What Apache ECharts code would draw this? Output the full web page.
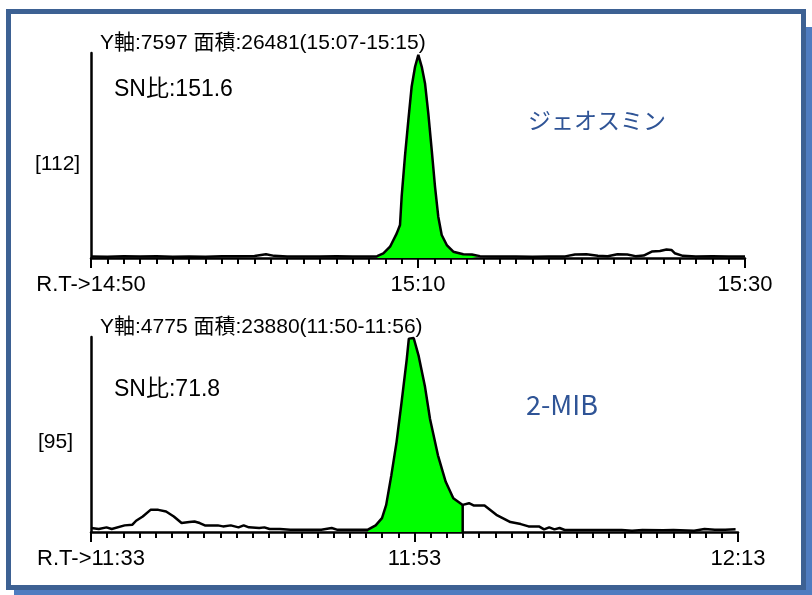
<!DOCTYPE html>
<html>
<head>
<meta charset="utf-8">
<title>ジェオスミン / 2-MIB</title>
<script src="https://cdn.jsdelivr.net/npm/echarts@6/dist/echarts.min.js"></script>
<style>
  html, body { margin: 0; padding: 0; background: #fff; }
  #main { width: 812px; height: 595px; }
</style>
</head>
<body>
<div id="main"></div>
<script>
// 上段：ジェオスミン [112]  横軸は 14:50 からの秒数
var geoTime = [0, 1, 2, 3, 4, 5, 6, 7, 8, 9, 10, 10.7, 11.2, 12, 13, 14, 15, 16, 17, 17.5,
  17.88, 18.29, 18.7, 18.9, 19.0, 19.2, 19.41, 19.61, 19.82, 20.02, 20.23, 20.43, 20.63, 20.84,
  21.04, 21.24, 21.45, 21.76, 22.16, 22.77, 23.3, 23.79, 24.5, 25, 26, 27, 28, 29, 29.6, 30.3,
  31.0, 31.6, 32.2, 32.8, 33.3, 33.8, 34.3, 34.8, 35.2, 35.5, 35.7, 36.2, 37, 38, 39, 40];
var geoValue = [60, 50, 70, 55, 70, 50, 60, 50, 65, 70, 75, 140, 80, 60, 55, 60, 70, 60, 55, 70,
  175, 423, 922, 1234, 2293, 3789, 5161, 6407, 7154, 7597, 7154, 6532, 5410, 4039,
  2667, 1545, 860, 486, 236, 140, 130, 70, 60, 55, 60, 50, 55, 60, 130, 140,
  80, 65, 140, 130, 70, 90, 240, 260, 320, 300, 180, 80, 60, 65, 55, 60];
var geoTicks = ['R.T->14:50', '15:10', '15:30'];
var geoArea = [17.5, 23.79];  // 緑で塗る範囲

// 下段：2-MIB [95]  横軸は 11:33 からの秒数
var mibTime = [0, 0.48, 0.96, 1.28, 2.08, 2.56, 2.79, 3.2, 3.68, 4.16, 4.64, 5.12, 5.6, 6.08,
  6.4, 6.72, 7.04, 7.84, 8.16, 8.64, 9.12, 9.44, 9.76, 10.4, 10.72, 11.04, 11.68, 12.32, 14.24,
  14.88, 15.2, 16.17, 16.8, 17.12, 17.6, 17.99, 18.25, 18.57, 18.89, 19.2, 19.52, 19.65, 19.95,
  20.26, 20.64, 20.96, 21.45, 21.93, 22.4, 22.98, 23.37, 23.68, 24.33, 25.06, 25.93, 26.57,
  27.05, 27.69, 28.01, 28.33, 28.65, 28.97, 29.29, 30.25, 32.81, 33.45, 34.09, 35.37, 36.01,
  37.29, 37.93, 38.57, 39.21, 39.85];
var mibValue = [100, 73, 114, 73, 163, 179, 277, 382, 545, 545, 504, 382, 220, 244,
  260, 220, 163, 163, 138, 163, 114, 163, 114, 98, 114, 73, 73, 57, 57,
  98, 57, 57, 57, 57, 163, 342, 667, 1400, 2213, 3189, 4247, 4760, 4775,
  4329, 3596, 2783, 1888, 1236, 830, 667, 708, 650, 650, 423, 244, 195,
  138, 138, 65, 114, 65, 98, 49, 49, 49, 32, 49, 41, 49,
  32, 73, 57, 57, 65];
var mibTicks = ['R.T->11:33', '11:53', '12:13'];
var mibArea = [17.12, 22.98];

var FONT = '"Liberation Sans", Arial, "Noto Sans CJK JP", sans-serif';

// 時間と強度を [x, y] の組にする
function pairs(t, v) {
  return t.map(function(x, i) { return [x, v[i]]; });
}
// 塗りつぶし範囲だけ取り出す
function areaPart(t, v, range) {
  return pairs(t, v).filter(function(p) { return p[0] >= range[0] && p[0] <= range[1]; });
}

function makeX(idx, ticks) {
  return {
    type: 'value', gridIndex: idx, min: 0, max: 40, interval: 20,
    axisLine: { show: true, onZero: false, lineStyle: { color: '#000', width: 2.5 } },
    axisTick: { show: true, length: 10, lineStyle: { color: '#000', width: 2 } },
    minorTick: { show: true, splitNumber: 20, length: 6, lineStyle: { color: '#000', width: 2 } },
    splitLine: { show: false },
    axisLabel: {
      color: '#000', fontSize: 22, fontFamily: FONT, margin: 16,
      showMinLabel: true, showMaxLabel: true,
      formatter: function(v) { return ticks[Math.round(v / 20)]; }
    }
  };
}
function makeY(idx, max) {
  return {
    type: 'value', gridIndex: idx, min: 0, max: max,
    axisLine: { show: true, lineStyle: { color: '#000', width: 2.5 } },
    axisTick: { show: false }, axisLabel: { show: false }, splitLine: { show: false }
  };
}
function fillSeries(idx, data) {
  return {
    type: 'line', xAxisIndex: idx, yAxisIndex: idx, data: data, symbol: 'none',
    lineStyle: { width: 0 }, areaStyle: { color: '#00ff00', opacity: 1 }, z: 2, silent: true
  };
}
function traceSeries(idx, data) {
  return {
    type: 'line', xAxisIndex: idx, yAxisIndex: idx, data: data, symbol: 'none',
    lineStyle: { color: '#000', width: 2.5 }, z: 3, silent: true
  };
}
function text(x, y, str, size, color, family) {
  return {
    type: 'text', x: x, y: y, z: 10,
    style: {
      text: str, fill: color || '#000', fontSize: size, fontFamily: family || FONT,
      verticalAlign: 'middle', textVerticalAlign: 'middle'
    }
  };
}

// 下段の面積終了位置の縦線
var mibEnd = mibTime.indexOf(mibArea[1]);
var dropLine = [[mibArea[1], 0], [mibArea[1], mibValue[mibEnd]]];

var chart = echarts.init(document.getElementById('main'));
var option = {
  animation: false,
  backgroundColor: '#fff',
  grid: [
    { left: 91, top: 53, width: 654, height: 205 },
    { left: 91, top: 337, width: 647, height: 195 }
  ],
  xAxis: [makeX(0, geoTicks), makeX(1, mibTicks)],
  yAxis: [makeY(0, 7670), makeY(1, 4800)],
  series: [
    fillSeries(0, areaPart(geoTime, geoValue, geoArea)),
    traceSeries(0, pairs(geoTime, geoValue)),
    fillSeries(1, areaPart(mibTime, mibValue, mibArea)),
    traceSeries(1, pairs(mibTime, mibValue)),
    traceSeries(1, dropLine)
  ],
  graphic: [
    // 枠と影
    { type: 'rect', z: -2, shape: { x: 14, y: 27, width: 798, height: 568 }, style: { fill: '#4f7cc0' } },
    { type: 'rect', z: -1, shape: { x: 8.5, y: 11.5, width: 795, height: 576 },
      style: { fill: '#fff', stroke: '#3d6193', lineWidth: 5 } },
    text(100, 43, 'Y軸:7597 面積:26481(15:07-15:15)', 21),
    text(114, 90, 'SN比:151.6', 23),
    text(528, 120, 'ジェオスミン', 23, '#2f5496', '"Noto Sans CJK JP", sans-serif'),
    text(35, 164, '[112]', 21),
    text(100, 327, 'Y軸:4775 面積:23880(11:50-11:56)', 21),
    text(114, 390, 'SN比:71.8', 23),
    text(526, 405, '2-MIB', 27, '#2f5496', '"Noto Sans CJK JP", sans-serif'),
    text(38, 442, '[95]', 21)
  ]
};
chart.setOption(option);
</script>
</body>
</html>
